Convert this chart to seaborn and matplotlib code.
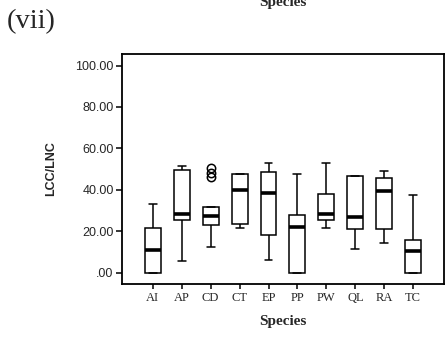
import numpy as np
import pandas as pd
import matplotlib
matplotlib.use("Agg")
import matplotlib.pyplot as plt
import seaborn as sns

species = ["AI", "AP", "CD", "CT", "EP", "PP", "PW", "QL", "RA", "TC"]
whisker_low = [0.0, 5.6, 12.6, 21.7, 6.0, 0.0, 21.7, 11.6, 14.3, 0.0]
q1 = [0.0, 25.3, 23.0, 23.4, 18.2, 0.0, 25.5, 21.1, 21.0, 0.0]
median = [10.8, 28.4, 27.4, 39.8, 38.4, 22.1, 28.2, 26.9, 39.5, 10.3]
q3 = [21.4, 49.8, 31.6, 47.8, 48.8, 27.9, 38.2, 46.9, 45.7, 15.9]
whisker_high = [33.0, 51.7, 31.6, 47.8, 53.0, 47.7, 52.8, 46.9, 49.1, 37.5]
outliers = {"CD": [46.1, 48.3, 50.4]}
yticks = [0, 20, 40, 60, 80, 100]
ytick_labels = [".00", "20.00", "40.00", "60.00", "80.00", "100.00"]

# Build samples whose quartiles / whiskers reproduce the read summary values
k = 20
rows = []
for i, s in enumerate(species):
    vals = [whisker_low[i]] + [q1[i]] * k + [median[i]] * k + [q3[i]] * k + [whisker_high[i]]
    vals += outliers.get(s, [])
    rows += [(s, v) for v in vals]
df = pd.DataFrame(rows, columns=["species", "value"])

sns.set_style("white")
fig = plt.figure(figsize=(4.46, 3.39), dpi=100)
ax = fig.add_axes([0.273, 0.162, 0.723, 0.679])

sns.boxplot(data=df, x="species", y="value", order=species, color="white",
            linecolor="black", linewidth=1.1, width=0.55, fliersize=6,
            flierprops={"marker": "o", "markerfacecolor": "none",
                        "markeredgecolor": "black", "markeredgewidth": 1.1},
            medianprops={"linewidth": 2.6, "color": "black"},
            ax=ax)

ax.set_xlim(-1.07, 10.07)
ax.set_ylim(-5.5, 105.6)
ax.set_yticks(yticks)
ax.set_yticklabels(ytick_labels, fontsize=9, family="Liberation Sans")
ax.set_xticks(range(len(species)))
ax.set_xticklabels(species, fontsize=9, family="Liberation Serif")
ax.tick_params(axis="y", direction="out", length=4.3, width=1.1, color="black",
               left=True, pad=1.5)
ax.tick_params(axis="x", direction="out", length=3.8, width=1.1, color="black",
               bottom=True, pad=2)
for sp in ax.spines.values():
    sp.set_visible(True)
    sp.set_color("black")
    sp.set_linewidth(1.3)

ax.set_ylabel("LCC/LNC", fontsize=9, fontweight="bold", family="Liberation Sans", labelpad=13)
ax.set_xlabel("Species", fontsize=11, fontweight="bold", family="Liberation Serif", labelpad=8)

fig.text(0.016, 0.917, "(vii)", fontsize=20.5, family="Liberation Serif", ha="left", va="baseline")
fig.text(0.635, 1 - 6 / 339, "Species", fontsize=11, fontweight="bold",
         family="Liberation Serif", ha="center", va="baseline")

fig.savefig("out.png", dpi=100)
